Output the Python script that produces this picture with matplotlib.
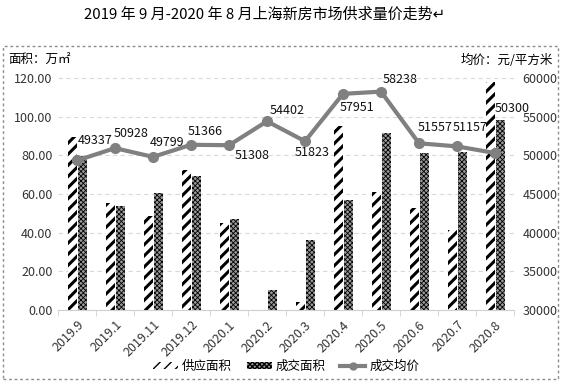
import matplotlib
matplotlib.use('Agg')
import matplotlib.pyplot as plt
import numpy as np
from matplotlib.patches import Patch, Rectangle
from matplotlib.lines import Line2D

plt.rcParams['font.family'] = ['Noto Sans CJK SC', 'DejaVu Sans']

months = ['2019.9', '2019.1', '2019.11', '2019.12', '2020.1', '2020.2',
          '2020.3', '2020.4', '2020.5', '2020.6', '2020.7', '2020.8']
supply = [89.6, 55.2, 48.6, 72.4, 45.2, 0.0, 4.0, 95.2, 61.0, 52.9, 41.5, 118.1]
deal = [79.5, 54.0, 60.3, 69.5, 47.1, 10.3, 36.2, 56.9, 91.7, 81.0, 81.6, 98.3]
price = [49337, 50928, 49799, 51366, 51308, 54402, 51823, 57951, 58238, 51557, 51157, 50300]

# label offsets in pixels (x, y-up)
label_off = [(18, 20), (16, 15), (14, 14), (14, 13), (23, -10), (20, 11),
             (7, -11), (14, -14), (19, 12), (16, 16), (13, 19), (17, 45)]

W, H = 562, 383
fig = plt.figure(figsize=(W / 100, H / 100), dpi=100)
fig.add_artist(Rectangle((3 / W, 4 / H), 555 / W, 333 / H, transform=fig.transFigure,
                         fill=False, edgecolor='#8c8c8c', linestyle=(0, (2, 2)), linewidth=1.0))

ax = fig.add_axes([58 / W, (H - 310) / H, 456 / W, 232 / H])
ax2 = ax.twinx()

x = np.arange(len(months))
bw = 0.25
with plt.rc_context({'hatch.linewidth': 2.2}):
    ax.bar(x - 0.12, supply, bw, facecolor='white', edgecolor='black', linewidth=0,
           hatch='///', zorder=2)
with plt.rc_context({'hatch.linewidth': 0.6}):
    ax.bar(x + 0.15, deal, bw, facecolor='#9a9a9a', edgecolor='black', linewidth=0,
           hatch='xxxxxxx', zorder=2)

ax2.plot(x, price, color='#808080', linewidth=3, marker='o', markersize=7, zorder=3)
for i, v in enumerate(price):
    dx, dy = label_off[i]
    ax2.annotate(str(v), (x[i], v), xytext=(dx, dy), textcoords='offset pixels',
                 ha='center', va='center', fontsize=9, color='#111111')

ax.set_xlim(-0.5, len(months) - 0.5)
ax.set_ylim(0, 120)
ax.set_yticks(np.arange(0, 121, 20))
ax.set_yticklabels(['%.2f' % t for t in np.arange(0, 121, 20)], fontsize=9, color='#333333')
ax2.set_ylim(30000, 60000)
ax2.set_yticks(np.arange(30000, 60001, 5000))
ax2.set_yticklabels([str(t) for t in range(30000, 60001, 5000)], fontsize=9, color='#333333')
ax.grid(axis='y', color='#d9d9d9', linestyle=(0, (4, 3)), linewidth=0.8, zorder=0)
ax.set_axisbelow(True)

ax.set_xticks(x)
ax.set_xticklabels(months, rotation=45, ha='right', rotation_mode='anchor', fontsize=9, color='#333333')
ax.set_xticks(np.arange(-0.5, len(months)), minor=True)
ax.tick_params(axis='x', which='major', length=0, pad=6)
ax.tick_params(axis='x', which='minor', length=4, color='#d0d0d0')
ax.tick_params(axis='y', length=0, pad=4)
ax2.tick_params(axis='y', length=0, pad=6)
for a in (ax, ax2):
    for s in ['top', 'left', 'right', 'bottom']:
        a.spines[s].set_visible(False)
ax.spines['bottom'].set_visible(True)
ax.spines['bottom'].set_color('#d0d0d0')

fig.text(265 / W, 1 - 15 / H, '2019 年 9 月-2020 年 8 月上海新房市场供求量价走势↵',
         ha='center', va='center', fontsize=10.8, color='black')
fig.text(8 / W, 1 - 60 / H, '面积：万㎡', ha='left', va='center', fontsize=9)
fig.text(553 / W, 1 - 60 / H, '均价：元/平方米', ha='right', va='center', fontsize=9)

with plt.rc_context({'hatch.linewidth': 2.2}):
    h1 = Patch(facecolor='white', edgecolor='black', linewidth=0, hatch='///')
with plt.rc_context({'hatch.linewidth': 0.6}):
    h2 = Patch(facecolor='#9a9a9a', edgecolor='black', linewidth=0, hatch='xxxxxxx')
h3 = Line2D([], [], color='#808080', linewidth=3, marker='o', markersize=5)
fig.legend([h1, h2, h3], ['供应面积', '成交面积', '成交均价'], loc='center',
           bbox_to_anchor=(286 / W, 17 / H), ncol=3, frameon=False, fontsize=9,
           handlelength=2.0, handleheight=0.5, handletextpad=0.3, columnspacing=1.2)

fig.savefig('out.png', dpi=100)
